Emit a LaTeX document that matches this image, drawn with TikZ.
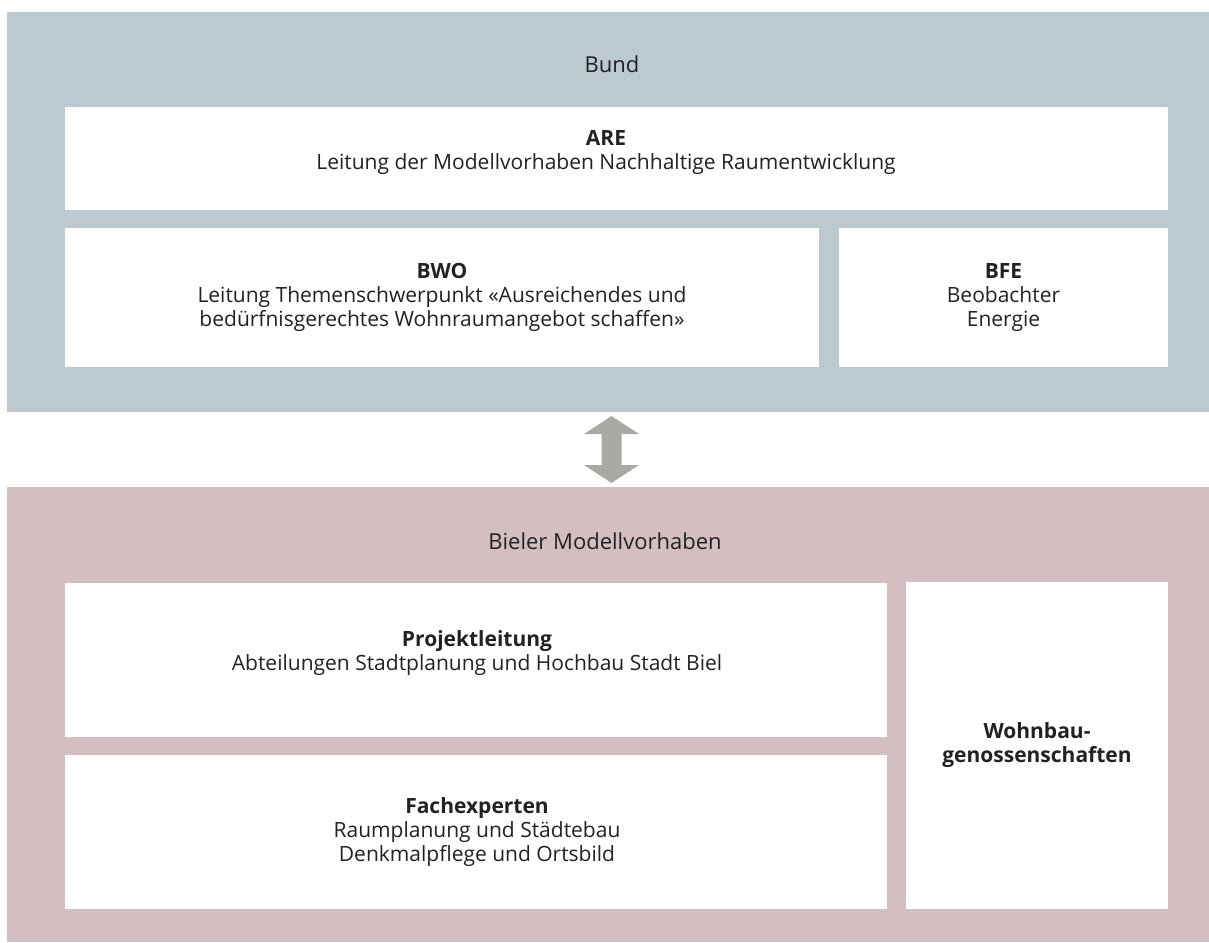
\documentclass[tikz,border=0pt]{standalone}
\usepackage{fontspec}
\setmainfont{Open Sans}
\definecolor{bundblue}{HTML}{BCC9D1}
\definecolor{bielpink}{HTML}{D3BFC1}
\definecolor{arrowgray}{HTML}{A9AAA4}
\definecolor{txt}{HTML}{222222}
\begin{document}
\begin{tikzpicture}[x=1pt,y=-1pt,
  lbl/.style={text=txt, font=\fontsize{21}{24}\selectfont, align=center, inner sep=0pt},
  title/.style={text=txt, font=\fontsize{22}{26}\selectfont, inner sep=0pt}]
\useasboundingbox (0,0) rectangle (1209,942);
% panels
\fill[bundblue] (7,12) rectangle (1209,412);
\fill[bielpink] (7,487) rectangle (1209,942);
% Bund boxes
\fill[white] (65,107) rectangle (1168,210);
\fill[white] (65,228) rectangle (819,367);
\fill[white] (839,228) rectangle (1168,367);
% Biel boxes
\fill[white] (65,583) rectangle (887,737);
\fill[white] (65,755) rectangle (887,909);
\fill[white] (906,582) rectangle (1168,909);
% texts
\node[title] (bund) at (612,64) {Bund};
\node[lbl] (are) at (606,152) {\textbf{ARE}\\Leitung der Modellvorhaben Nachhaltige Raumentwicklung};
\node[lbl] (bwo) at (442,297.5) {\textbf{BWO}\\Leitung Themenschwerpunkt «Ausreichendes und\\bedürfnisgerechtes Wohnraumangebot schaffen»};
\node[lbl] (bfe) at (1003.5,297.5) {\textbf{BFE}\\Beobachter\\Energie};
\node[title] (biel) at (605,541) {Bieler Modellvorhaben};
\node[lbl] (pl) at (477,653) {\textbf{Projektleitung}\\Abteilungen Stadtplanung und Hochbau Stadt Biel};
\node[lbl] (fe) at (477,832) {\textbf{Fachexperten}\\Raumplanung und Städtebau\\Denkmalpflege und Ortsbild};
\node[lbl] (wb) at (1037,745.5) {\textbf{Wohnbau-}\\\textbf{genossenschaften}};
% double arrow
\fill[arrowgray] (611.5,416) -- (639,434) -- (621.5,434) -- (621.5,465) -- (639,465)
  -- (611.5,483) -- (584,465) -- (601.5,465) -- (601.5,434) -- (584,434) -- cycle;
\end{tikzpicture}
\end{document}
